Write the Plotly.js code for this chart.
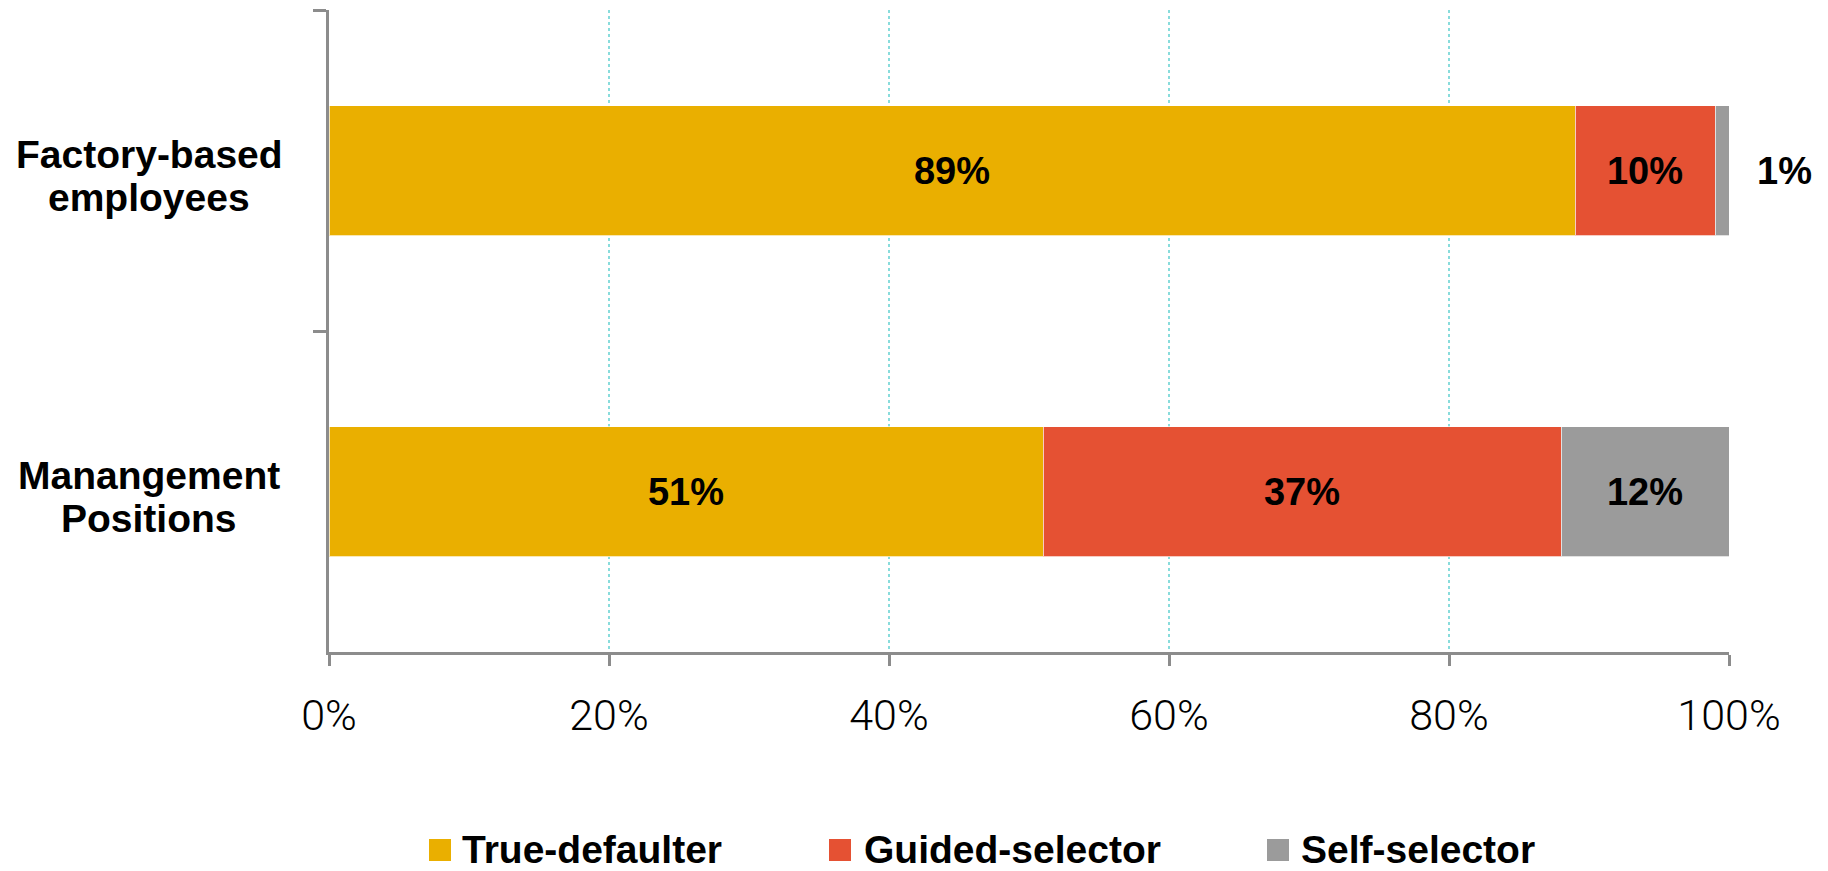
<!DOCTYPE html>
<html>
<head>
<meta charset="utf-8">
<script src="https://cdn.plot.ly/plotly-3.0.1.min.js"></script>
<style>html,body{margin:0;padding:0;background:#fff;}#chart{width:1828px;height:871px;}</style>
</head>
<body>
<div id="chart"></div>
<script>
// ---- data ----
const categories = ['Factory-based employees', 'Manangement Positions'];
const categoryLines = [['Factory-based', 'employees'], ['Manangement', 'Positions']];
const seriesNames = ['True-defaulter', 'Guided-selector', 'Self-selector'];
const trueDefaulter = [89, 51];
const guidedSelector = [10, 37];
const selfSelector = [1, 12];
const tickValues = [0, 20, 40, 60, 80, 100];
const tickLabels = ['0%', '20%', '40%', '60%', '80%', '100%'];
const seriesColors = ['#EAAF00', '#E55133', '#9B9B9B'];

// ---- layout constants ----
const W = 1828, H = 871;
const M = {l: 329, r: 99, t: 10, b: 219};
const PW = W - M.l - M.r, PH = H - M.t - M.b;
const px2x = p => (p - M.l) / PW;
const py2y = p => (H - M.b - p) / PH;
const boldFont = 'Liberation Sans, Arial, sans-serif';
const smallThreshold = 5;

const seriesValues = [trueDefaulter, guidedSelector, selfSelector];

const traces = seriesValues.map((vals, i) => ({
  type: 'bar',
  orientation: 'h',
  name: seriesNames[i],
  y: categories,
  x: vals,
  text: vals.map(v => v >= smallThreshold ? v + '%' : ''),
  textposition: 'inside',
  insidetextanchor: 'middle',
  constraintext: 'none',
  textangle: 0,
  textfont: {family: boldFont, size: 38, color: '#000', weight: 'bold'},
  marker: {color: seriesColors[i], line: {color: 'rgba(255,255,255,0.7)', width: 1}},
  hoverinfo: 'x+name',
  showlegend: false
}));

const annotations = [];
// category labels (centered, two lines, tight spacing)
const lineShifts = [16, -27];
categories.forEach((c, i) => {
  categoryLines[i].forEach((line, j) => {
    annotations.push({
      xref: 'paper', yref: 'y', x: px2x(149), y: c,
      xanchor: 'center', yanchor: 'middle', yshift: lineShifts[j],
      text: '<b>' + line + '</b>', showarrow: false,
      font: {family: boldFont, size: 39, color: '#000'}
    });
  });
});
// small values labelled outside the bar end
categories.forEach((c, i) => {
  const total = seriesValues.reduce((s, arr) => s + arr[i], 0);
  seriesValues.forEach((arr, k) => {
    if (arr[i] < smallThreshold) {
      annotations.push({
        xref: 'x', yref: 'y', x: total, y: c, xanchor: 'left', yanchor: 'middle',
        xshift: 26, text: '<b>' + arr[i] + '%</b>', showarrow: false,
        font: {family: boldFont, size: 38, color: '#000'}
      });
    }
  });
});
// custom legend
const legendMarkerX = [429, 829, 1267];
const legendTextX = [462, 864, 1301];
const shapes = [];
seriesNames.forEach((n, i) => {
  shapes.push({
    type: 'rect', xref: 'paper', yref: 'paper',
    x0: px2x(legendMarkerX[i]), x1: px2x(legendMarkerX[i] + 22),
    y0: py2y(861), y1: py2y(839),
    fillcolor: seriesColors[i], line: {width: 0}
  });
  annotations.push({
    xref: 'paper', yref: 'paper', x: px2x(legendTextX[i] - 2), y: py2y(849),
    xanchor: 'left', yanchor: 'middle', text: '<b>' + n + '</b>', showarrow: false,
    font: {family: boldFont, size: 39, color: '#000'}
  });
});

const layout = {
  width: W, height: H,
  margin: M,
  paper_bgcolor: '#fff', plot_bgcolor: '#fff',
  barmode: 'stack',
  bargap: 0.595,
  showlegend: false,
  xaxis: {
    range: [0, 100],
    tickvals: tickValues,
    ticktext: tickLabels,
    ticks: 'outside', ticklen: 11, tickwidth: 3, tickcolor: '#8c8c8c',
    showline: true, linecolor: '#8c8c8c', linewidth: 3,
    showgrid: true, gridcolor: '#88dcdc', gridwidth: 2, griddash: 'dot',
    zeroline: false,
    ticklabelstandoff: 12,
    tickfont: {family: 'Roboto, Liberation Sans, sans-serif', size: 43, color: '#000', weight: 300},
    fixedrange: true
  },
  yaxis: {
    type: 'category',
    categoryorder: 'array', categoryarray: categories,
    range: [1.5, -0.5],
    tickson: 'boundaries',
    ticks: 'outside', ticklen: 13, tickwidth: 3, tickcolor: '#8c8c8c',
    showticklabels: false,
    showline: true, linecolor: '#8c8c8c', linewidth: 3,
    showgrid: false, zeroline: false,
    fixedrange: true
  },
  annotations: annotations,
  shapes: shapes
};

Plotly.newPlot('chart', traces, layout, {displayModeBar: false, staticPlot: true});
</script>
</body>
</html>
